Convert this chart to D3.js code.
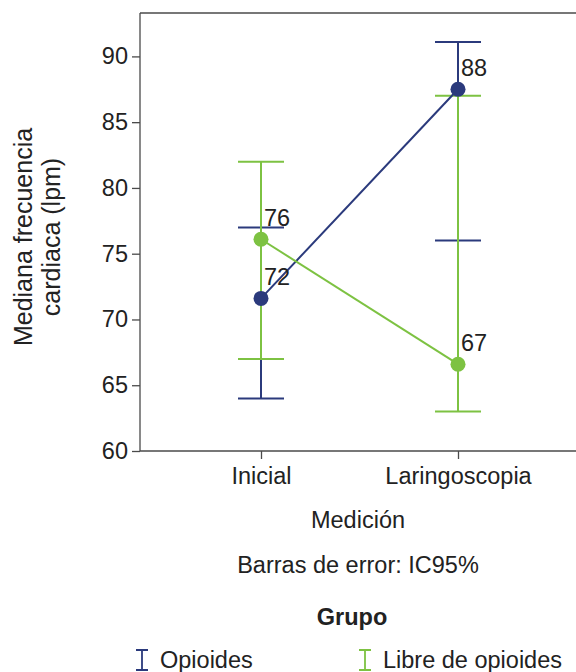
<!DOCTYPE html>
<html>
<head>
<meta charset="utf-8">
<script src="https://cdn.jsdelivr.net/npm/d3@7"></script>
<style>
  body { margin: 0; background: #fff; }
  svg text { font-family: "Liberation Sans", Arial, sans-serif; fill: #222; }
  .axis path, .axis line { stroke: #4a4a4a; stroke-width: 1.3; }
  .axis text { font-size: 23.5px; font-family: "Liberation Sans", Arial, sans-serif; fill: #222; }
</style>
</head>
<body>
<div id="chart"></div>
<script>
// categories and series
var categories = ["Inicial", "Laringoscopia"];
var groups = ["Opioides", "Libre de opioides"];
var colors = ["#2b3a7c", "#7dc242"];

var medianOpioides = [71.6, 87.5];
var lowerOpioides = [64, 76];
var upperOpioides = [77, 91.1];
var labelOpioides = ["72", "88"];

var medianLibre = [76.1, 66.6];
var lowerLibre = [67, 63];
var upperLibre = [82, 87];
var labelLibre = ["76", "67"];

var yTicks = [60, 65, 70, 75, 80, 85, 90];

var series = [
    {name: groups[0], color: colors[0], mid: medianOpioides, lo: lowerOpioides, hi: upperOpioides, lab: labelOpioides},
    {name: groups[1], color: colors[1], mid: medianLibre, lo: lowerLibre, hi: upperLibre, lab: labelLibre}
];

var width = 576, height = 672;
var margin = {top: 13, bottom: 221, left: 140};
var fs = "23.5px";

var svg = d3.select("#chart").append("svg")
    .attr("width", width)
    .attr("height", height);

var xScale = d3.scalePoint().domain(categories)
    .range([261, 458]);
var yScale = d3.scaleLinear().domain([60, 93.3])
    .range([height - margin.bottom, margin.top]);

// frame (top border, runs off the right edge)
svg.append("line")
    .attr("x1", margin.left).attr("x2", width + 5)
    .attr("y1", margin.top).attr("y2", margin.top)
    .attr("stroke", "#4a4a4a").attr("stroke-width", 1.3);

// y axis
svg.append("g")
    .attr("class", "axis")
    .attr("transform", `translate(${margin.left},0)`)
    .call(d3.axisLeft(yScale).tickValues(yTicks).tickSize(8).tickSizeOuter(0).tickPadding(4))
    .call(function(g) { g.select(".domain").attr("d", `M0,${margin.top}V${yScale(60)}`); });

// x axis
svg.append("g")
    .attr("class", "axis")
    .attr("transform", `translate(0,${yScale(60)})`)
    .call(d3.axisBottom(xScale).tickSize(8).tickSizeOuter(0).tickPadding(8))
    .call(function(g) { g.select(".domain").attr("d", `M${margin.left},0H${width + 5}`); });

// axis titles
svg.append("text")
    .attr("transform", "translate(32,237) rotate(-90)")
    .attr("text-anchor", "middle")
    .style("font-size", "25px")
    .text("Mediana frecuencia");
svg.append("text")
    .attr("transform", "translate(60,237) rotate(-90)")
    .attr("text-anchor", "middle")
    .style("font-size", "25px")
    .text("cardiaca (lpm)");

svg.append("text").attr("x", 358).attr("y", 528)
    .attr("text-anchor", "middle").style("font-size", fs).text("Medición");
svg.append("text").attr("x", 358).attr("y", 573)
    .attr("text-anchor", "middle").style("font-size", fs).text("Barras de error: IC95%");

var capHalf = 23;

// error bars
series.forEach(function(s) {
    var g = svg.append("g").attr("stroke", s.color).attr("stroke-width", 2);
    categories.forEach(function(c, i) {
        var x = xScale(c);
        g.append("line").attr("x1", x).attr("x2", x)
            .attr("y1", yScale(s.lo[i])).attr("y2", yScale(s.hi[i]));
        g.append("line").attr("x1", x - capHalf).attr("x2", x + capHalf)
            .attr("y1", yScale(s.lo[i])).attr("y2", yScale(s.lo[i]));
        g.append("line").attr("x1", x - capHalf).attr("x2", x + capHalf)
            .attr("y1", yScale(s.hi[i])).attr("y2", yScale(s.hi[i]));
    });
});

// lines joining medians
var line = d3.line()
    .x(function(d) { return xScale(d.c); })
    .y(function(d) { return yScale(d.v); });

series.forEach(function(s) {
    var pts = categories.map(function(c, i) { return {c: c, v: s.mid[i]}; });
    svg.append("path").datum(pts)
        .attr("d", line)
        .attr("fill", "none")
        .attr("stroke", s.color)
        .attr("stroke-width", 2);
});

// points and labels
series.forEach(function(s) {
    categories.forEach(function(c, i) {
        svg.append("circle")
            .attr("cx", xScale(c)).attr("cy", yScale(s.mid[i]))
            .attr("r", 7.5).attr("fill", s.color);
        svg.append("text")
            .attr("x", xScale(c) + 3).attr("y", yScale(s.mid[i]) - 13)
            .style("font-size", fs)
            .text(s.lab[i]);
    });
});

// legend
svg.append("text").attr("x", 352).attr("y", 625)
    .attr("text-anchor", "middle").style("font-size", fs).style("font-weight", "bold")
    .text("Grupo");

var legendX = [142, 365];
series.forEach(function(s, i) {
    var g = svg.append("g").attr("transform", `translate(${legendX[i]},660)`);
    g.append("path")
        .attr("d", "M-6,-10H6M0,-10V10M-6,10H6")
        .attr("stroke", s.color).attr("stroke-width", 1.8).attr("fill", "none");
    g.append("text").attr("x", 18).attr("y", 8)
        .style("font-size", fs).text(s.name);
});
</script>
</body>
</html>
